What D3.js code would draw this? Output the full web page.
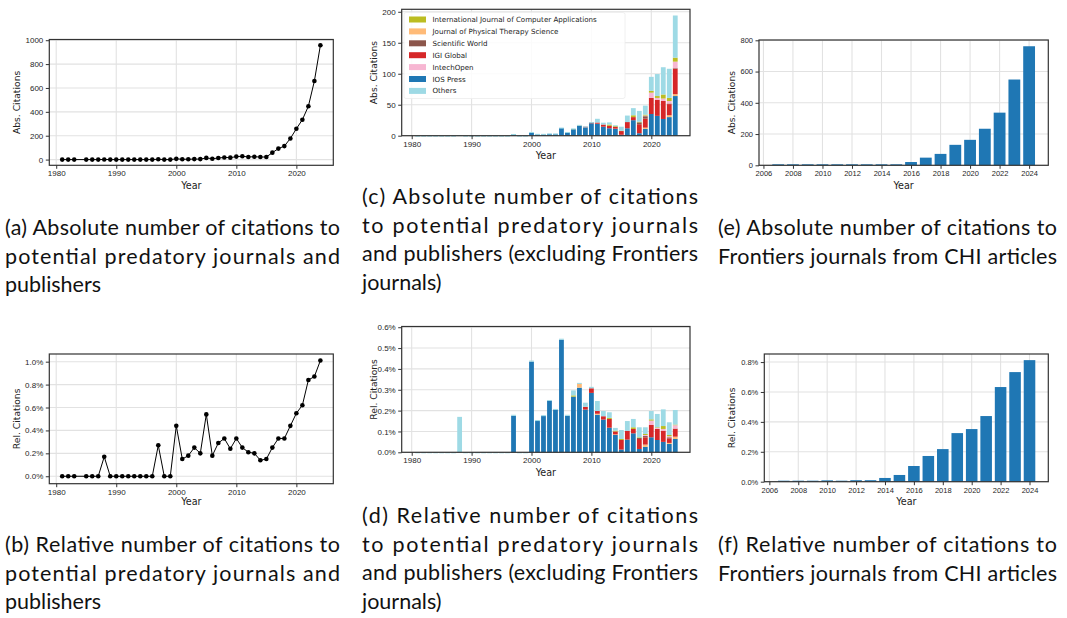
<!DOCTYPE html>
<meta charset="utf-8">
<style>
body { margin: 0; background: #fff; }
svg { font-family: "DejaVu Sans", sans-serif; }
.tick text { fill: #262626; }
.caption { font-family: Lato, sans-serif; font-size: 21.5px; fill: #111; }
</style>
<script src="https://cdn.jsdelivr.net/npm/d3@7"></script>
<body>
<script>

// ---- data ----
// (a)/(b): all citations to potential predatory venues
var yearsAll = [1981, 1982, 1983, 1985, 1986, 1987, 1988, 1989, 1990, 1991, 1992, 1993, 1994, 1995,
  1996, 1997, 1998, 1999, 2000, 2001, 2002, 2003, 2004, 2005, 2006, 2007, 2008, 2009, 2010, 2011,
  2012, 2013, 2014, 2015, 2016, 2017, 2018, 2019, 2020, 2021, 2022, 2023, 2024];
var absAll = [0, 0, 0, 0, 0, 0, 1, 0, 0, 0, 0, 0, 0, 0,
  0, 3, 0, 0, 6, 3, 3, 4, 4, 14, 7, 13, 18, 16, 25, 28,
  22, 24, 21, 22, 58, 92, 113, 177, 258, 334, 447, 658, 958];
var relAll = [0, 0, 0, 0, 0, 0, 0.17, 0, 0, 0, 0, 0, 0, 0,
  0, 0.27, 0, 0, 0.44, 0.15, 0.18, 0.25, 0.20, 0.54, 0.18, 0.29, 0.33, 0.24, 0.33, 0.25,
  0.21, 0.20, 0.14, 0.15, 0.25, 0.33, 0.33, 0.44, 0.55, 0.62, 0.84, 0.87, 1.01];

// (c)/(d): by publisher, excluding Frontiers
var yearsPub = [1981, 1982, 1983, 1984, 1985, 1986, 1987, 1988, 1989, 1990, 1991, 1992, 1993, 1994,
  1995, 1996, 1997, 1998, 1999, 2000, 2001, 2002, 2003, 2004, 2005, 2006, 2007, 2008, 2009, 2010,
  2011, 2012, 2013, 2014, 2015, 2016, 2017, 2018, 2019, 2020, 2021, 2022, 2023, 2024];
var publishers = ["IOS Press", "Journal of Physical Therapy Science", "IGI Global", "Scientific World",
  "IntechOpen", "International Journal of Computer Applications", "Others"];
var pubColors = ["#1f77b4", "#ffbb78", "#d62728", "#8c564b", "#f7b6d2", "#bcbd22", "#9edae5"];
var legendOrder = ["International Journal of Computer Applications", "Journal of Physical Therapy Science",
  "Scientific World", "IGI Global", "IntechOpen", "IOS Press", "Others"];

//                1981 ............................................. 1999 | 2000 ................................................................ 2024
var absIOS    = [0,0,0,0,0,0,0,0,0,0,0,0,0,0,0,0,2.5,0,0,  4.5,2,2,3,3,12.5,5,10.5,16,13.5,20,19,14.5,12,11,1.5,12,25,4,11,35,32,27,30,64];
var absJPTS   = [0,0,0,0,0,0,0,0,0,0,0,0,0,0,0,0,0,0,0,    0,0,0,0,0,0,0,0,1,0,0,0.3,0,0,0.3,0,0,0,0,2,0,0,0,3,3];
var absIGI    = [0,0,0,0,0,0,0,0,0,0,0,0,0,0,0,0,0,0,0,    0,0,0,0,0,0,0,0,0,1,1.5,2,3.5,4,3,6,10,5,14.5,14.5,26,26,29,18,41];
var absSW     = [0,0,0,0,0,0,0,0,0,0,0,0,0,0,0,0,0,0,0,    0,0,0,0,0,0,0,0,0,0,0,0,0,0,0,0,0,0,3,4,0,0,0,1,1];
var absIntech = [0,0,0,0,0,0,0,0,0,0,0,0,0,0,0,0,0,0,0,    0,0,0,0,0,0,0,0,0,0,0,0,0,0,0,0,0,0,0,1,8.5,3,4,4,10.5];
var absIJCA   = [0,0,0,0,0,0,0,0,0,0,0,0,0,0,0,0,0,0,0,    0,0,0,0,0,0,0,0.3,0,0,0,0,0,2,1.5,0.5,0,3,1,1.5,3,3,6.5,5,6.5];
var absOthers = [0,0,0,0,0,0,0,1,0,0,0,0,0,0,0,0,0.3,0,0,  1.5,1,1,0.5,0.3,0.5,1,1,0.5,0.5,0.5,6,3,3.5,1,6.5,10.5,11.5,17.5,14.5,22.5,35.5,44,47,68];

var relIOS    = [0,0,0,0,0,0,0,0,0,0,0,0,0,0,0,0,0.175,0,0,  0.435,0.15,0.175,0.247,0.205,0.54,0.175,0.267,0.31,0.205,0.285,0.18,0.157,0.118,0.083,0.013,0.061,0.091,0.016,0.026,0.072,0.059,0.05,0.04,0.064];
var relJPTS   = [0,0,0,0,0,0,0,0,0,0,0,0,0,0,0,0,0,0,0,      0,0,0,0,0,0,0,0,0.02,0,0,0.005,0,0,0.003,0,0,0,0,0.011,0,0,0,0.005,0.011];
var relIGI    = [0,0,0,0,0,0,0,0,0,0,0,0,0,0,0,0,0,0,0,      0,0,0,0,0,0,0,0,0,0.013,0.022,0.013,0.016,0.042,0.014,0.046,0.042,0.021,0.048,0.035,0.059,0.053,0.054,0.022,0.037];
var relSW     = [0,0,0,0,0,0,0,0,0,0,0,0,0,0,0,0,0,0,0,      0,0,0,0,0,0,0,0,0,0,0,0,0,0,0,0,0,0,0.005,0.006,0,0,0,0.005,0.002];
var relIntech = [0,0,0,0,0,0,0,0,0,0,0,0,0,0,0,0,0,0,0,      0,0,0,0,0,0,0,0,0,0,0,0,0,0,0,0,0,0,0,0.005,0.021,0.005,0.008,0.005,0.016];
var relIJCA   = [0,0,0,0,0,0,0,0,0,0,0,0,0,0,0,0,0,0,0,      0,0,0,0,0,0,0,0.006,0,0,0,0,0,0.005,0.004,0.005,0,0.008,0.003,0.005,0.006,0.003,0.014,0.006,0.003];
var relOthers = [0,0,0,0,0,0,0,0.17,0,0,0,0,0,0,0,0,0.005,0,0, 0.005,0.005,0.003,0.004,0.003,0.005,0.005,0.024,0.003,0.02,0.007,0.048,0.025,0.027,0.013,0.043,0.047,0.04,0.048,0.032,0.04,0.064,0.08,0.061,0.07];

// (e)/(f): citations to Frontiers journals
var yearsFront = [2007, 2008, 2009, 2010, 2011, 2012, 2013, 2014, 2015, 2016, 2017, 2018, 2019, 2020, 2021, 2022, 2023, 2024];
var absFront = [0, 0, 0, 1, 0, 1, 1, 2, 5, 21, 49, 73, 131, 163, 234, 337, 549, 762];
var relFront = [0, 0, 0, 0.009, 0.002, 0.01, 0.01, 0.025, 0.045, 0.105, 0.172, 0.218, 0.325, 0.352, 0.439, 0.633, 0.733, 0.813];

var ticksDecade = [1980, 1990, 2000, 2010, 2020];
var ticksFront = [2006, 2008, 2010, 2012, 2014, 2016, 2018, 2020, 2022, 2024];

var capA = ["(a) Absolute number of citations to", "potential predatory journals and", "publishers"];
var capB = ["(b) Relative number of citations to", "potential predatory journals and", "publishers"];
var capC = ["(c) Absolute number of citations", "to potential predatory journals", "and publishers (excluding Frontiers", "journals)"];
var capD = ["(d) Relative number of citations", "to potential predatory journals", "and publishers (excluding Frontiers", "journals)"];
var capE = ["(e) Absolute number of citations to", "Frontiers journals from CHI articles"];
var capF = ["(f) Relative number of citations to", "Frontiers journals from CHI articles"];

var width = 1067, height = 618;
var svg = d3.select("body").append("svg").attr("width", width).attr("height", height);

var pct = function(d) { return d3.format(".1f")(d) + "%"; };

// sets up grid, returns scales and a layer to plot into; frame() draws spines + axes on top
function makeAxes(o) {
  var g = svg.append("g");
  var x = d3.scaleLinear().domain(o.xDomain).range([o.left, o.right]);
  var y = d3.scaleLinear().domain(o.yDomain).range([o.bottom, o.top]);
  var grid = g.append("g").attr("stroke", "#e2e2e2").attr("stroke-width", 1.1);
  grid.selectAll(".gx").data(o.xTicks).join("line")
    .attr("x1", d => x(d)).attr("x2", d => x(d)).attr("y1", o.top).attr("y2", o.bottom);
  grid.selectAll(".gy").data(o.yTicks).join("line")
    .attr("x1", o.left).attr("x2", o.right).attr("y1", d => y(d)).attr("y2", d => y(d));
  var plot = g.append("g");
  function frame() {
    var fs = o.tickSize || 8;
    g.append("g").attr("transform", "translate(0," + o.bottom + ")")
      .call(d3.axisBottom(x).tickValues(o.xTicks).tickFormat(d3.format("d")).tickSize(3.5).tickPadding(2))
      .call(s => s.select(".domain").remove())
      .call(s => s.selectAll("text").attr("font-size", fs))
      .call(s => s.selectAll("line").attr("stroke", "#333"));
    g.append("g").attr("transform", "translate(" + o.left + ",0)")
      .call(d3.axisLeft(y).tickValues(o.yTicks).tickFormat(o.yFmt || d3.format("d")).tickSize(3.5).tickPadding(2.5))
      .call(s => s.select(".domain").remove())
      .call(s => s.selectAll("text").attr("font-size", fs))
      .call(s => s.selectAll("line").attr("stroke", "#333"));
    g.append("rect").attr("x", o.left).attr("y", o.top)
      .attr("width", o.right - o.left).attr("height", o.bottom - o.top)
      .attr("fill", "none").attr("stroke", "#333").attr("stroke-width", 1.2);
    g.append("text").attr("x", (o.left + o.right) / 2).attr("y", o.xLabelY)
      .attr("text-anchor", "middle").attr("font-size", 9.6).attr("fill", "#222").text("Year");
    g.append("text").attr("transform", "translate(" + o.yLabelX + "," + (o.top + o.bottom) / 2 + ") rotate(-90)")
      .attr("text-anchor", "middle").attr("dy", "0.35em").attr("font-size", 9.2).attr("fill", "#222").text(o.yLabel);
  }
  return {x: x, y: y, plot: plot, frame: frame};
}

function linePanel(ax, years, vals) {
  var pts = years.map((d, i) => [d, vals[i]]);
  ax.plot.append("path").datum(pts)
    .attr("d", d3.line().x(d => ax.x(d[0])).y(d => ax.y(d[1])))
    .attr("fill", "none").attr("stroke", "#000").attr("stroke-width", 1);
  ax.plot.selectAll("circle").data(pts).join("circle")
    .attr("cx", d => ax.x(d[0])).attr("cy", d => ax.y(d[1])).attr("r", 2.3).attr("fill", "#000");
  ax.frame();
}

function stackPanel(ax, series) {
  var rows = yearsPub.map((yr, i) => {
    var r = {year: yr};
    publishers.forEach((p, k) => { r[p] = series[k][i]; });
    return r;
  });
  var stacked = d3.stack().keys(publishers)(rows);
  var bw = (ax.x(1) - ax.x(0)) * 0.8;
  stacked.forEach((layer, k) => {
    ax.plot.append("g").attr("fill", pubColors[k]).selectAll("rect").data(layer).join("rect")
      .attr("x", d => ax.x(d.data.year) - bw / 2).attr("width", bw)
      .attr("y", d => ax.y(d[1]))
      .attr("height", d => {
        var h = ax.y(d[0]) - ax.y(d[1]);
        return publishers[k] === "Others" ? Math.max(h, 1) : h;
      });
  });
  ax.frame();
}

function barPanel(ax, years, vals) {
  var bw = (ax.x(1) - ax.x(0)) * 0.8;
  ax.plot.selectAll("rect").data(years.map((d, i) => [d, vals[i]])).join("rect")
    .attr("x", d => ax.x(d[0]) - bw / 2).attr("width", bw)
    .attr("y", d => Math.min(ax.y(d[1]), ax.y(0) - 1))
    .attr("height", d => Math.max(ax.y(0) - ax.y(d[1]), 1))
    .attr("fill", "#1f77b4");
  ax.frame();
}

// (a)
linePanel(makeAxes({left: 49.3, right: 333.3, top: 39.5, bottom: 165.3,
  xDomain: [1978.85, 2026.15], yDomain: [-47.9, 1005.9],
  xTicks: ticksDecade, yTicks: [0, 200, 400, 600, 800, 1000],
  yLabel: "Abs. Citations", xLabelY: 188.5, yLabelX: 16.7}), yearsAll, absAll);

// (b)
linePanel(makeAxes({left: 49.3, right: 333.3, top: 354, bottom: 483.7,
  xDomain: [1978.85, 2026.15], yDomain: [-0.065, 1.067],
  xTicks: ticksDecade, yTicks: [0, 0.2, 0.4, 0.6, 0.8, 1.0], yFmt: pct,
  yLabel: "Rel. Citations", xLabelY: 505, yLabelX: 16.7}), yearsAll, relAll);

// (c)
var axC = makeAxes({left: 401.7, right: 690, top: 9.3, bottom: 135.7,
  xDomain: [1978.33, 2026.46], yDomain: [0, 204],
  xTicks: ticksDecade, yTicks: [0, 50, 100, 150, 200],
  yLabel: "Abs. Citations", xLabelY: 158.5, yLabelX: 373.3});
stackPanel(axC, [absIOS, absJPTS, absIGI, absSW, absIntech, absIJCA, absOthers]);

// legend for (c)
var leg = svg.append("g").attr("transform", "translate(404,12.5)");
leg.append("rect").attr("width", 221).attr("height", 86).attr("rx", 2)
  .attr("fill", "#fff").attr("fill-opacity", 0.85).attr("stroke", "#ececec").attr("stroke-width", 0.8);
var li = leg.selectAll(".li").data(legendOrder).join("g")
  .attr("transform", (d, i) => "translate(5," + (4 + i * 11.9) + ")");
li.append("rect").attr("width", 17).attr("height", 6)
  .attr("fill", d => pubColors[publishers.indexOf(d)]);
li.append("text").attr("x", 23.5).attr("y", 3).attr("dy", "0.35em")
  .attr("font-size", 7.1).attr("fill", "#222").text(d => d);

// (d)
var axD = makeAxes({left: 401.7, right: 690, top: 326.5, bottom: 452.3,
  xDomain: [1978.33, 2026.46], yDomain: [0, 0.6035],
  xTicks: ticksDecade, yTicks: [0, 0.1, 0.2, 0.3, 0.4, 0.5, 0.6], yFmt: pct,
  yLabel: "Rel. Citations", xLabelY: 476, yLabelX: 373.3});
stackPanel(axD, [relIOS, relJPTS, relIGI, relSW, relIntech, relIJCA, relOthers]);

// (e)
barPanel(makeAxes({left: 759, right: 1048.3, top: 40, bottom: 165.3,
  xDomain: [2005.7, 2025.3], yDomain: [0, 802],
  xTicks: ticksFront, yTicks: [0, 200, 400, 600, 800], tickSize: 7.5,
  yLabel: "Abs. Citations", xLabelY: 188.5, yLabelX: 731.7}), yearsFront, absFront);

// (f)
barPanel(makeAxes({left: 764.3, right: 1048.3, top: 354, bottom: 481.7,
  xDomain: [2005.65, 2025.3], yDomain: [0, 0.854],
  xTicks: ticksFront, yTicks: [0, 0.2, 0.4, 0.6, 0.8], yFmt: pct, tickSize: 7.5,
  yLabel: "Rel. Citations", xLabelY: 505, yLabelX: 731.7}), yearsFront, relFront);

// captions (justified like the paper, last line ragged)
function caption(lines, x0, x1, y0, lastFull) {
  var g = svg.append("g");
  lines.forEach((ln, i) => {
    var t = g.append("text").attr("class", "caption").attr("x", x0).attr("y", y0 + i * 28.7).text(ln);
    if (i < lines.length - 1 || lastFull) t.attr("textLength", x1 - x0).attr("lengthAdjust", "spacing");
  });
}
caption(capA, 5, 340, 235, false);
caption(capB, 5, 340, 552, false);
caption(capC, 362, 698, 204, false);
caption(capD, 362, 698, 523, false);
caption(capE, 718, 1057, 235, true);
caption(capF, 718, 1057, 552, true);

</script>
</body>
